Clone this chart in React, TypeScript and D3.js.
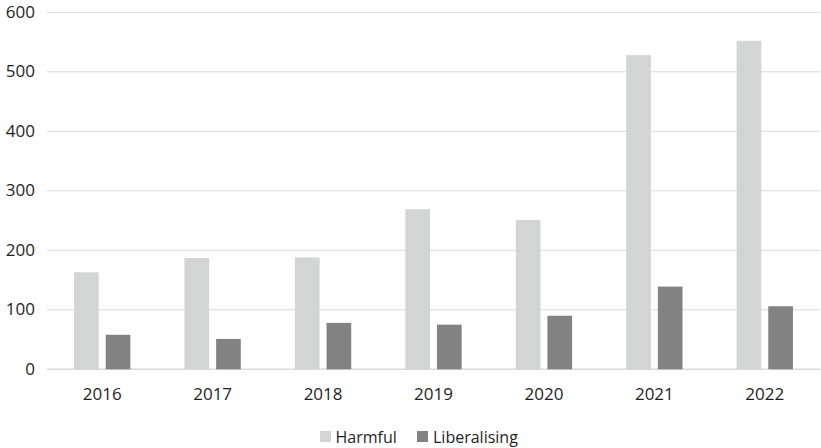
import React from 'react';
import * as d3 from 'd3';

// values
const years = ['2016', '2017', '2018', '2019', '2020', '2021', '2022'];
const harmful = [163, 187, 188, 269, 251, 528, 552];
const liberalising = [58, 51, 78, 75, 90, 139, 106];
const yTicks = [0, 100, 200, 300, 400, 500, 600];

const seriesNames = ['Harmful', 'Liberalising'];
const seriesColors = ['#d3d4d4', '#828282'];

const W = 821;
const H = 448;
const margin = { left: 47, right: 1, top: 12, bottom: 79 };
const font = "'Open Sans', 'Liberation Sans', sans-serif";
const textColor = '#1e1e1e';

export default function App() {
  const x = d3.scaleBand<string>()
    .domain(years)
    .range([margin.left, W - margin.right])
    .paddingInner(0.49)
    .paddingOuter(0.245);

  const inner = d3.scaleBand<number>()
    .domain([0, 1])
    .range([0, x.bandwidth()])
    .paddingInner(0.22);

  const y = d3.scaleLinear()
    .domain([0, 600])
    .range([H - margin.bottom + 0.3, margin.top + 0.3]);

  const series = [harmful, liberalising];

  return (
    <svg width={W} height={H} style={{ position: 'absolute', left: 0, top: 0, background: '#fff' }}
      fontFamily={font}>
      {/* gridlines */}
      {yTicks.map(t => (
        <line key={t} x1={margin.left} x2={W - margin.right} y1={y(t)} y2={y(t)}
          stroke="#d9d9d9" strokeWidth={t === 0 ? 1.5 : 1} />
      ))}
      {/* y labels */}
      {yTicks.map(t => (
        <text key={'l' + t} x={35} y={y(t) - 0.5} dy="0.35em" textAnchor="end" fontSize={17} fill={textColor}>
          {t}
        </text>
      ))}
      {/* bars */}
      {series.map((vals, si) => (
        <g key={si}>
          {vals.map((v, i) => (
            <rect key={years[i]}
              x={(x(years[i]) ?? 0) + (inner(si) ?? 0)}
              y={y(v)}
              width={inner.bandwidth()}
              height={y(0) - y(v)}
              fill={seriesColors[si]} />
          ))}
        </g>
      ))}
      {/* x labels */}
      {years.map(yr => (
        <text key={'x' + yr} x={(x(yr) ?? 0) + x.bandwidth() / 2} y={400} textAnchor="middle"
          fontSize={17} fill={textColor}>
          {yr}
        </text>
      ))}
      {/* legend */}
      <g>
        <rect x={320} y={431} width={11} height={11} fill={seriesColors[0]} />
        <text x={335.5} y={442.5} fontSize={16} fill={textColor}>{seriesNames[0]}</text>
        <rect x={417} y={431} width={11} height={11} fill={seriesColors[1]} />
        <text x={433} y={442.5} fontSize={16} fill={textColor}>{seriesNames[1]}</text>
      </g>
    </svg>
  );
}
